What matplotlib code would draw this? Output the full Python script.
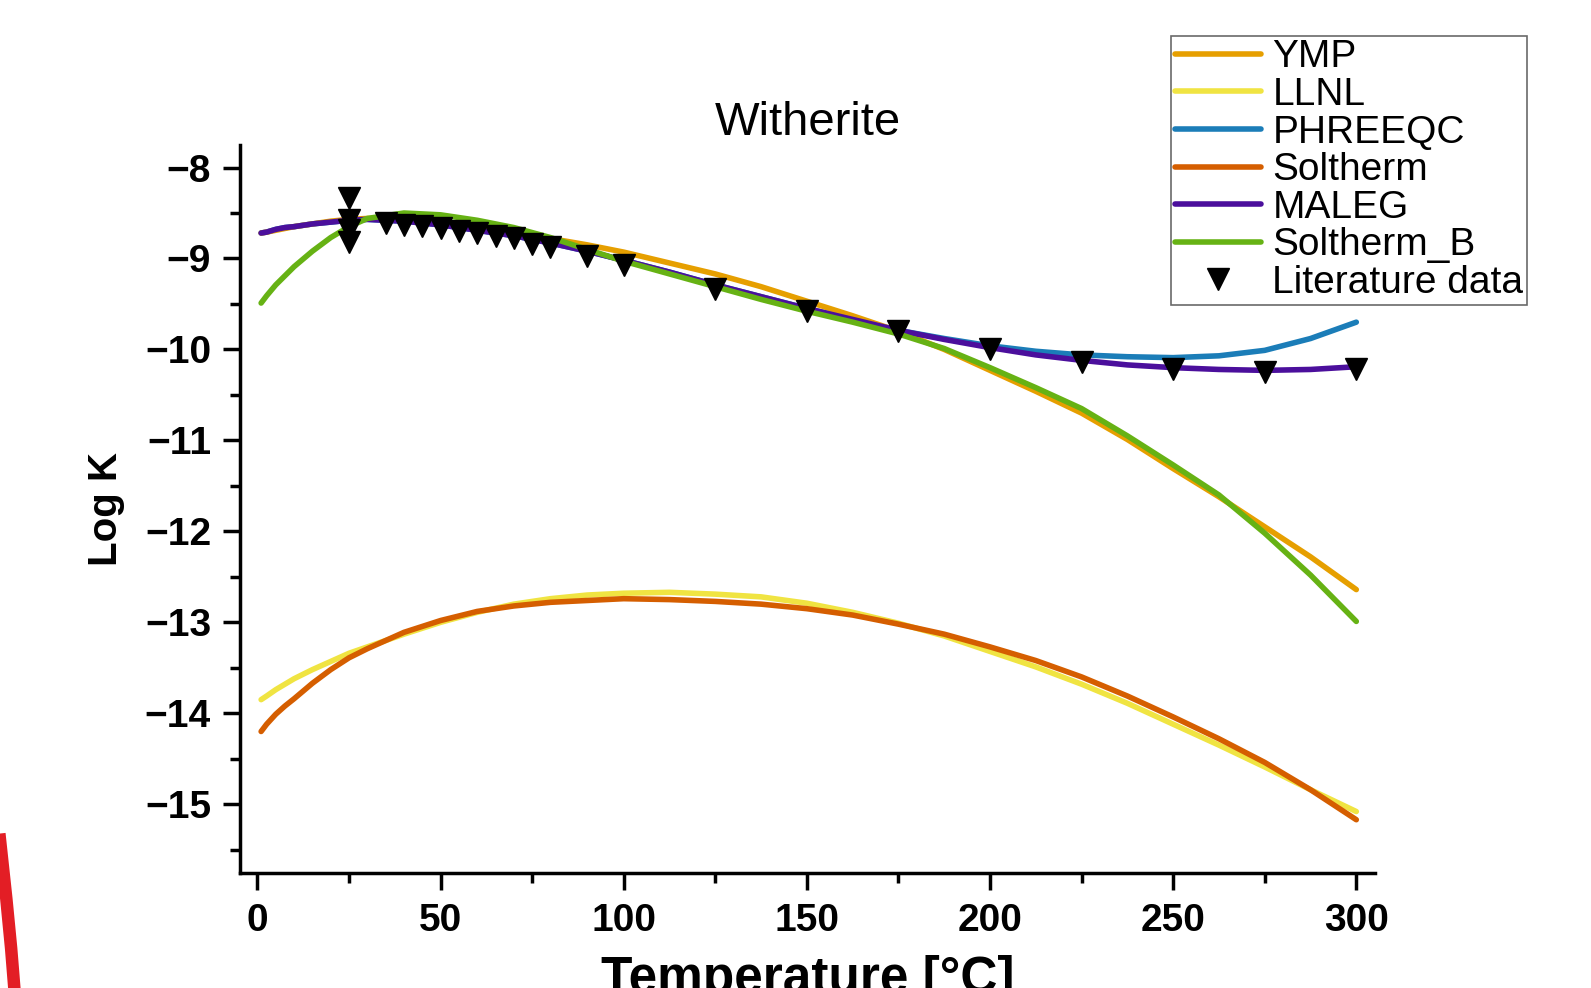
import matplotlib
matplotlib.use("Agg")
import matplotlib.pyplot as plt
from matplotlib.lines import Line2D
from matplotlib.ticker import MultipleLocator

plt.rcParams['font.family'] = ['Liberation Sans', 'DejaVu Sans']

# temperatures (°C) at which the curves were read
temp = [1, 2.5, 5, 7.5, 10, 15, 20, 25, 30, 40, 50, 60, 70, 80, 90, 100,
        112.5, 125, 137.5, 150, 162.5, 175, 187.5, 200, 212.5, 225, 237.5,
        250, 262.5, 275, 287.5, 300]

ymp = [-8.72, -8.71, -8.69, -8.67, -8.65, -8.62, -8.59, -8.57, -8.56, -8.56,
       -8.60, -8.65, -8.71, -8.78, -8.85, -8.93, -9.05, -9.17, -9.31, -9.47,
       -9.63, -9.80, -10.00, -10.23, -10.46, -10.70, -10.99, -11.31, -11.62,
       -11.95, -12.28, -12.64]
llnl = [-13.85, -13.81, -13.74, -13.68, -13.62, -13.52, -13.43, -13.34,
        -13.27, -13.13, -13.00, -12.89, -12.80, -12.74, -12.70, -12.68,
        -12.67, -12.69, -12.72, -12.79, -12.89, -13.01, -13.15, -13.32,
        -13.49, -13.68, -13.89, -14.12, -14.35, -14.59, -14.84, -15.08]
phreeqc = [-8.72, -8.71, -8.68, -8.66, -8.65, -8.62, -8.60, -8.58, -8.57,
           -8.59, -8.63, -8.69, -8.75, -8.83, -8.92, -9.02, -9.15, -9.29,
           -9.42, -9.55, -9.67, -9.79, -9.88, -9.96, -10.02, -10.06, -10.08,
           -10.09, -10.07, -10.01, -9.88, -9.70]
soltherm = [-14.20, -14.12, -14.01, -13.92, -13.84, -13.67, -13.52, -13.39,
            -13.29, -13.11, -12.98, -12.88, -12.82, -12.78, -12.76, -12.74,
            -12.75, -12.77, -12.80, -12.85, -12.92, -13.02, -13.13, -13.27,
            -13.42, -13.60, -13.81, -14.04, -14.28, -14.54, -14.84, -15.17]
maleg = [-8.72, -8.71, -8.68, -8.66, -8.65, -8.62, -8.60, -8.58, -8.57,
         -8.59, -8.63, -8.69, -8.75, -8.83, -8.92, -9.02, -9.15, -9.29,
         -9.42, -9.55, -9.67, -9.79, -9.89, -9.98, -10.06, -10.12, -10.17,
         -10.20, -10.22, -10.23, -10.22, -10.19]
soltherm_b = [-9.49, -9.41, -9.29, -9.19, -9.09, -8.92, -8.77, -8.65, -8.56,
              -8.50, -8.52, -8.58, -8.66, -8.77, -8.90, -9.03, -9.17, -9.31,
              -9.45, -9.58, -9.70, -9.83, -9.99, -10.20, -10.42, -10.65,
              -10.95, -11.27, -11.60, -12.02, -12.48, -12.99]

lit_temp = [25, 25, 25, 25, 35, 40, 45, 50, 55, 60, 65, 70, 75, 80, 90, 100,
            125, 150, 175, 200, 225, 250, 275, 300]
lit_logk = [-8.34, -8.58, -8.69, -8.82, -8.61, -8.63, -8.64, -8.67, -8.70,
            -8.72, -8.75, -8.78, -8.84, -8.87, -8.97, -9.07, -9.33, -9.58,
            -9.80, -10.00, -10.14, -10.22, -10.25, -10.21]

series = [
    ("YMP", ymp, "#E69F00"),
    ("LLNL", llnl, "#F0E442"),
    ("PHREEQC", phreeqc, "#1B7DB8"),
    ("Soltherm", soltherm, "#D55E00"),
    ("MALEG", maleg, "#4B0F9C"),
    ("Soltherm_B", soltherm_b, "#66B214"),
]

fig = plt.figure(figsize=(15.91, 9.88), dpi=100)
ax = fig.add_axes([0.151, 0.116, 0.713, 0.737])

# draw order: PHREEQC under MALEG, orange under green
order = ["PHREEQC", "YMP", "MALEG", "LLNL", "Soltherm", "Soltherm_B"]
handles = {}
for name in order:
    for lab, vals, col in series:
        if lab == name:
            ln, = ax.plot(temp, vals, color=col, lw=4, label=lab,
                          solid_capstyle='round', solid_joinstyle='round')
            handles[lab] = ln
sc, = ax.plot(lit_temp, lit_logk, linestyle='none', marker='v', ms=16,
              color='black', label='Literature data', zorder=5)

ax.set_xlim(-4.7, 305)
ax.set_ylim(-15.76, -7.755)
ax.xaxis.set_major_locator(MultipleLocator(50))
ax.xaxis.set_minor_locator(MultipleLocator(25))
ax.yaxis.set_major_locator(MultipleLocator(1))
ax.yaxis.set_minor_locator(MultipleLocator(0.5))

for s in ['top', 'right']:
    ax.spines[s].set_visible(False)
for s in ['left', 'bottom']:
    ax.spines[s].set_linewidth(2.5)

ax.tick_params(which='major', length=12, width=2.5, labelsize=28, pad=9)
ax.tick_params(which='minor', length=7, width=2.5)
for t in ax.get_xticklabels() + ax.get_yticklabels():
    t.set_fontweight('bold')

ax.set_xlabel("Temperature [°C]", fontsize=37, fontweight='bold', labelpad=12)
ax.set_ylabel("Log K", fontsize=29, fontweight='bold', labelpad=14)
ax.set_title("Witherite", fontsize=34, pad=4)

leg_handles = [handles[lab] for lab, _, _ in series] + [sc]
leg = fig.legend(handles=leg_handles, loc='upper right',
                 bbox_to_anchor=(0.960, 0.964), fontsize=28,
                 frameon=True, fancybox=False, edgecolor='#444444',
                 handlelength=2.2, handletextpad=0.3, labelspacing=0.04,
                 borderpad=0.1, borderaxespad=0)
leg.get_frame().set_linewidth(1.2)

# red stroke at the lower left edge of the picture
fig.add_artist(Line2D([0.0, 0.004, 0.007, 0.009], [0.15, 0.09, 0.04, 0.0],
                      transform=fig.transFigure, color='#E31E25', lw=9))

fig.savefig("out.png", dpi=100)
